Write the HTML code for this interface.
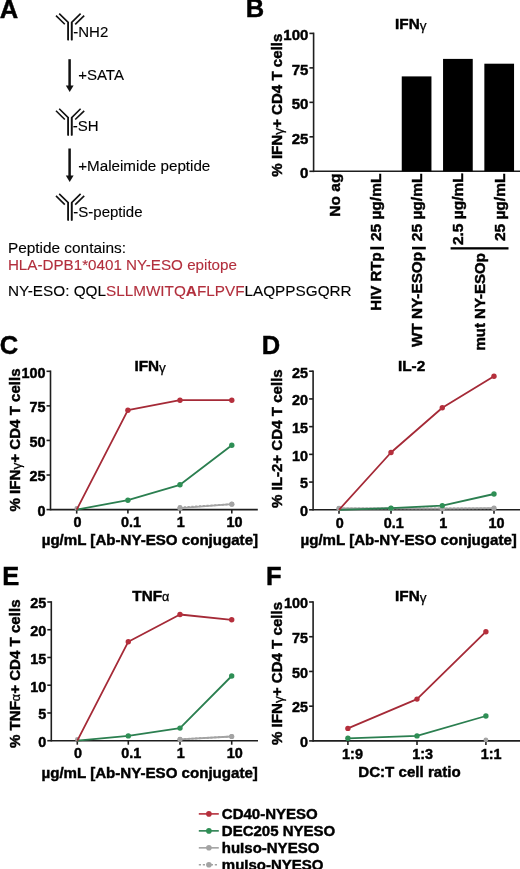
<!DOCTYPE html>
<html><head><meta charset="utf-8"><style>
html,body{margin:0;padding:0;background:#fff;}
svg{display:block;will-change:transform;}
text{font-family:"Liberation Sans",sans-serif;}
</style></head><body>
<svg width="520" height="869" viewBox="0 0 520 869">
<text x="-0.3" y="17.6" font-size="25.5" font-weight="bold" text-anchor="start" fill="#000" stroke="#000" stroke-width="0.45">A</text>
<line x1="68.2" y1="22.4" x2="68.2" y2="40.3" stroke="#111" stroke-width="1.6"/>
<line x1="71.7" y1="22.4" x2="71.7" y2="40.3" stroke="#111" stroke-width="1.6"/>
<polyline points="68.2,40.3 68.2,22.4 59.2,13.6" fill="none" stroke="#111" stroke-width="1.6"/>
<polyline points="71.7,40.3 71.7,22.4 80.6,13.6" fill="none" stroke="#111" stroke-width="1.6"/>
<line x1="56.0" y1="15.6" x2="64.8" y2="24.3" stroke="#111" stroke-width="1.6"/>
<line x1="75.2" y1="24.3" x2="84.2" y2="15.6" stroke="#111" stroke-width="1.6"/>
<text x="73.3" y="36.5" font-size="15" font-weight="normal" text-anchor="start" fill="#000" stroke="#000" stroke-width="0.12">-NH2</text>
<line x1="69.6" y1="59.2" x2="69.6" y2="87.0" stroke="#111" stroke-width="2.5"/>
<polygon points="65.8,85.6 73.6,85.6 69.7,92.0" fill="#111"/>
<text x="78.2" y="80.2" font-size="15" font-weight="normal" text-anchor="start" fill="#000" stroke="#000" stroke-width="0.12">+SATA</text>
<line x1="68.2" y1="117.6" x2="68.2" y2="135.5" stroke="#111" stroke-width="1.6"/>
<line x1="71.7" y1="117.6" x2="71.7" y2="135.5" stroke="#111" stroke-width="1.6"/>
<polyline points="68.2,135.5 68.2,117.6 59.2,108.8" fill="none" stroke="#111" stroke-width="1.6"/>
<polyline points="71.7,135.5 71.7,117.6 80.6,108.8" fill="none" stroke="#111" stroke-width="1.6"/>
<line x1="56.0" y1="110.8" x2="64.8" y2="119.5" stroke="#111" stroke-width="1.6"/>
<line x1="75.2" y1="119.5" x2="84.2" y2="110.8" stroke="#111" stroke-width="1.6"/>
<text x="72.7" y="130.6" font-size="15" font-weight="normal" text-anchor="start" fill="#000" stroke="#000" stroke-width="0.12">-SH</text>
<line x1="69.6" y1="148.5" x2="69.6" y2="177.0" stroke="#111" stroke-width="2.5"/>
<polygon points="65.8,175.6 73.6,175.6 69.7,182.0" fill="#111"/>
<text x="78.2" y="170.8" font-size="15.2" font-weight="normal" text-anchor="start" fill="#000" stroke="#000" stroke-width="0.12">+Maleimide peptide</text>
<line x1="68.2" y1="202.70000000000002" x2="68.2" y2="220.60000000000002" stroke="#111" stroke-width="1.6"/>
<line x1="71.7" y1="202.70000000000002" x2="71.7" y2="220.60000000000002" stroke="#111" stroke-width="1.6"/>
<polyline points="68.2,220.60000000000002 68.2,202.70000000000002 59.2,193.9" fill="none" stroke="#111" stroke-width="1.6"/>
<polyline points="71.7,220.60000000000002 71.7,202.70000000000002 80.6,193.9" fill="none" stroke="#111" stroke-width="1.6"/>
<line x1="56.0" y1="195.9" x2="64.8" y2="204.60000000000002" stroke="#111" stroke-width="1.6"/>
<line x1="75.2" y1="204.60000000000002" x2="84.2" y2="195.9" stroke="#111" stroke-width="1.6"/>
<text x="73.3" y="216.9" font-size="15" font-weight="normal" text-anchor="start" fill="#000" stroke="#000" stroke-width="0.12">-S-peptide</text>
<text x="7.9" y="252.6" font-size="15.4" font-weight="normal" text-anchor="start" fill="#000" stroke="#000" stroke-width="0.12">Peptide contains:</text>
<text x="7.9" y="270.3" font-size="15.2" font-weight="normal" text-anchor="start" fill="#B22F3D" stroke="#B22F3D" stroke-width="0.12">HLA-DPB1*0401 NY-ESO epitope</text>
<text x="7.9" y="296.0" font-size="15.3" fill="#000" stroke="#000" stroke-width="0.12">NY-ESO: QQL<tspan fill="#B22F3D" stroke="#B22F3D">SLLMWITQ<tspan font-weight="bold">A</tspan>FLPVF</tspan>LAQPPSGQRR</text>
<text x="245.8" y="16.9" font-size="25.5" font-weight="bold" text-anchor="start" fill="#000" stroke="#000" stroke-width="0.45">B</text>
<line x1="313.6" y1="32.6" x2="313.6" y2="172.10000000000002" stroke="#1e1e1e" stroke-width="1.6"/>
<line x1="313.6" y1="171.3" x2="520" y2="171.3" stroke="#1e1e1e" stroke-width="1.6"/>
<line x1="309.40000000000003" y1="171.3" x2="313.6" y2="171.3" stroke="#1e1e1e" stroke-width="1.6"/>
<text x="308.40000000000003" y="178.0" font-size="15.0" font-weight="bold" text-anchor="end" fill="#000" stroke="#000" stroke-width="0.45">0</text>
<line x1="309.40000000000003" y1="136.82500000000002" x2="313.6" y2="136.82500000000002" stroke="#1e1e1e" stroke-width="1.6"/>
<text x="308.40000000000003" y="143.525" font-size="15.0" font-weight="bold" text-anchor="end" fill="#000" stroke="#000" stroke-width="0.45">25</text>
<line x1="309.40000000000003" y1="102.35000000000001" x2="313.6" y2="102.35000000000001" stroke="#1e1e1e" stroke-width="1.6"/>
<text x="308.40000000000003" y="109.05000000000001" font-size="15.0" font-weight="bold" text-anchor="end" fill="#000" stroke="#000" stroke-width="0.45">50</text>
<line x1="309.40000000000003" y1="67.87500000000001" x2="313.6" y2="67.87500000000001" stroke="#1e1e1e" stroke-width="1.6"/>
<text x="308.40000000000003" y="74.57500000000002" font-size="15.0" font-weight="bold" text-anchor="end" fill="#000" stroke="#000" stroke-width="0.45">75</text>
<line x1="309.40000000000003" y1="33.400000000000006" x2="313.6" y2="33.400000000000006" stroke="#1e1e1e" stroke-width="1.6"/>
<text x="308.40000000000003" y="40.10000000000001" font-size="15.0" font-weight="bold" text-anchor="end" fill="#000" stroke="#000" stroke-width="0.45">100</text>
<rect x="401.75" y="76.4" width="29.7" height="94.9" fill="#000"/>
<rect x="443.04999999999995" y="58.9" width="29.7" height="112.4" fill="#000"/>
<rect x="484.34999999999997" y="63.7" width="29.7" height="107.60000000000001" fill="#000"/>
<text x="395.1" y="29.0" font-size="15.3" font-weight="bold" text-anchor="start" fill="#000" stroke="#000" stroke-width="0.45">IFN<tspan font-weight="normal" stroke-width="0.25" font-size="13.6" baseline-shift="-1">&#947;</tspan></text>
<text x="282.0" y="176.7" font-size="15.1" font-weight="bold" text-anchor="start" fill="#000" stroke="#000" stroke-width="0.45" transform="rotate(-90 282.0 176.7)">% IFN<tspan font-weight="normal" stroke-width="0.25" font-size="13.6" baseline-shift="-1">&#947;</tspan>+ CD4 T cells</text>
<text x="339.6" y="173.6" font-size="15.5" font-weight="bold" text-anchor="end" fill="#000" stroke="#000" stroke-width="0.45" transform="rotate(-90 339.6 173.6)">No ag</text>
<text x="380.6" y="173.6" font-size="15.5" font-weight="bold" text-anchor="end" fill="#000" stroke="#000" stroke-width="0.45" transform="rotate(-90 380.6 173.6)">25 &#181;g/mL</text>
<text x="421.9" y="173.6" font-size="15.5" font-weight="bold" text-anchor="end" fill="#000" stroke="#000" stroke-width="0.45" transform="rotate(-90 421.9 173.6)">25 &#181;g/mL</text>
<text x="463.1" y="173.3" font-size="15.5" font-weight="bold" text-anchor="end" fill="#000" stroke="#000" stroke-width="0.45" transform="rotate(-90 463.1 173.3)">2.5 &#181;g/mL</text>
<text x="504.6" y="173.6" font-size="15.5" font-weight="bold" text-anchor="end" fill="#000" stroke="#000" stroke-width="0.45" transform="rotate(-90 504.6 173.6)">25 &#181;g/mL</text>
<line x1="377.0" y1="248.1" x2="377.0" y2="248.1" stroke="#1e1e1e" stroke-width="1.6"/>
<rect x="370.2" y="246.8" width="13.8" height="2.6" fill="#000"/>
<rect x="412.0" y="246.8" width="13.8" height="2.6" fill="#000"/>
<rect x="450.6" y="247.2" width="57.9" height="2.3" fill="#000"/>
<text x="380.6" y="252.3" font-size="15.0" font-weight="bold" text-anchor="end" fill="#000" stroke="#000" stroke-width="0.45" transform="rotate(-90 380.6 252.3)">HIV RTp</text>
<text x="421.9" y="251.9" font-size="15.3" font-weight="bold" text-anchor="end" fill="#000" stroke="#000" stroke-width="0.45" transform="rotate(-90 421.9 251.9)">WT NY-ESOp</text>
<text x="485.0" y="253.1" font-size="15.0" font-weight="bold" text-anchor="end" fill="#000" stroke="#000" stroke-width="0.45" transform="rotate(-90 485.0 253.1)">mut NY-ESOp</text>
<line x1="50.5" y1="370.5" x2="50.5" y2="510.40000000000003" stroke="#1e1e1e" stroke-width="1.6"/>
<line x1="50.5" y1="509.6" x2="257.8" y2="509.6" stroke="#1e1e1e" stroke-width="1.6"/>
<line x1="46.5" y1="509.6" x2="50.5" y2="509.6" stroke="#1e1e1e" stroke-width="1.6"/>
<text x="45.5" y="515.9" font-size="14.4" font-weight="bold" text-anchor="end" fill="#000" stroke="#000" stroke-width="0.45">0</text>
<line x1="46.5" y1="475.02500000000003" x2="50.5" y2="475.02500000000003" stroke="#1e1e1e" stroke-width="1.6"/>
<text x="45.5" y="481.32500000000005" font-size="14.4" font-weight="bold" text-anchor="end" fill="#000" stroke="#000" stroke-width="0.45">25</text>
<line x1="46.5" y1="440.45000000000005" x2="50.5" y2="440.45000000000005" stroke="#1e1e1e" stroke-width="1.6"/>
<text x="45.5" y="446.75000000000006" font-size="14.4" font-weight="bold" text-anchor="end" fill="#000" stroke="#000" stroke-width="0.45">50</text>
<line x1="46.5" y1="405.875" x2="50.5" y2="405.875" stroke="#1e1e1e" stroke-width="1.6"/>
<text x="45.5" y="412.175" font-size="14.4" font-weight="bold" text-anchor="end" fill="#000" stroke="#000" stroke-width="0.45">75</text>
<line x1="46.5" y1="371.3" x2="50.5" y2="371.3" stroke="#1e1e1e" stroke-width="1.6"/>
<text x="45.5" y="377.6" font-size="14.4" font-weight="bold" text-anchor="end" fill="#000" stroke="#000" stroke-width="0.45">100</text>
<line x1="76.7" y1="509.6" x2="76.7" y2="513.6" stroke="#1e1e1e" stroke-width="1.6"/>
<line x1="127.9" y1="509.6" x2="127.9" y2="513.6" stroke="#1e1e1e" stroke-width="1.6"/>
<line x1="180.0" y1="509.6" x2="180.0" y2="513.6" stroke="#1e1e1e" stroke-width="1.6"/>
<line x1="231.8" y1="509.6" x2="231.8" y2="513.6" stroke="#1e1e1e" stroke-width="1.6"/>
<text x="77.4" y="527.3000000000001" font-size="14.4" font-weight="bold" text-anchor="middle" fill="#000" stroke="#000" stroke-width="0.45">0</text>
<text x="131.1" y="527.3000000000001" font-size="14.4" font-weight="bold" text-anchor="middle" fill="#000" stroke="#000" stroke-width="0.45">0.1</text>
<text x="180.7" y="527.3000000000001" font-size="14.4" font-weight="bold" text-anchor="middle" fill="#000" stroke="#000" stroke-width="0.45">1</text>
<text x="234.4" y="527.3000000000001" font-size="14.4" font-weight="bold" text-anchor="middle" fill="#000" stroke="#000" stroke-width="0.45">10</text>
<circle cx="76.7" cy="508.2" r="2.3" fill="#A3A3A3"/>
<polyline points="180.0,507.4 231.8,504.2" fill="none" stroke="#A3A3A3" stroke-width="1.8" stroke-linejoin="round" stroke-dasharray="2.2,1.6"/>
<circle cx="180.0" cy="507.4" r="2.4" fill="#A3A3A3"/>
<circle cx="231.8" cy="504.2" r="2.4" fill="#A3A3A3"/>
<polyline points="180.0,508.2 231.8,504.2" fill="none" stroke="#A3A3A3" stroke-width="1.8" stroke-linejoin="round"/>
<circle cx="180.0" cy="508.2" r="2.6" fill="#A3A3A3"/>
<circle cx="231.8" cy="504.2" r="2.6" fill="#A3A3A3"/>
<polyline points="76.7,509.6 127.9,500.2 180.0,484.8 231.8,445.2" fill="none" stroke="#2B7F50" stroke-width="1.8" stroke-linejoin="round"/>
<circle cx="127.9" cy="500.2" r="2.7" fill="#2E8F55"/>
<circle cx="180.0" cy="484.8" r="2.7" fill="#2E8F55"/>
<circle cx="231.8" cy="445.2" r="2.7" fill="#2E8F55"/>
<polyline points="76.7,509.6 127.9,410.2 180.0,400.2 231.8,400.2" fill="none" stroke="#A52A37" stroke-width="1.8" stroke-linejoin="round"/>
<circle cx="127.9" cy="410.2" r="2.7" fill="#B52F3C"/>
<circle cx="180.0" cy="400.2" r="2.7" fill="#B52F3C"/>
<circle cx="231.8" cy="400.2" r="2.7" fill="#B52F3C"/>
<text x="134.4" y="371.2" font-size="15.3" font-weight="bold" text-anchor="start" fill="#000" stroke="#000" stroke-width="0.45">IFN<tspan font-weight="normal" stroke-width="0.25" font-size="13.6" baseline-shift="-1">&#947;</tspan></text>
<text x="20.3" y="511.5" font-size="15.1" font-weight="bold" text-anchor="start" fill="#000" stroke="#000" stroke-width="0.45" transform="rotate(-90 20.3 511.5)">% IFN<tspan font-weight="normal" stroke-width="0.25" font-size="13.6" baseline-shift="-1">&#947;</tspan>+ CD4 T cells</text>
<text x="41.7" y="545.3" font-size="15.1" font-weight="bold" text-anchor="start" fill="#000" stroke="#000" stroke-width="0.45">&#181;g/mL [Ab-NY-ESO conjugate]</text>
<text x="-0.2" y="354.2" font-size="25.5" font-weight="bold" text-anchor="start" fill="#000" stroke="#000" stroke-width="0.45">C</text>
<line x1="313.1" y1="370.4" x2="313.1" y2="510.6" stroke="#1e1e1e" stroke-width="1.6"/>
<line x1="313.1" y1="509.8" x2="520" y2="509.8" stroke="#1e1e1e" stroke-width="1.6"/>
<line x1="309.1" y1="509.8" x2="313.1" y2="509.8" stroke="#1e1e1e" stroke-width="1.6"/>
<text x="308.1" y="516.1" font-size="14.4" font-weight="bold" text-anchor="end" fill="#000" stroke="#000" stroke-width="0.45">0</text>
<line x1="309.1" y1="482.08" x2="313.1" y2="482.08" stroke="#1e1e1e" stroke-width="1.6"/>
<text x="308.1" y="488.38" font-size="14.4" font-weight="bold" text-anchor="end" fill="#000" stroke="#000" stroke-width="0.45">5</text>
<line x1="309.1" y1="454.36" x2="313.1" y2="454.36" stroke="#1e1e1e" stroke-width="1.6"/>
<text x="308.1" y="460.66" font-size="14.4" font-weight="bold" text-anchor="end" fill="#000" stroke="#000" stroke-width="0.45">10</text>
<line x1="309.1" y1="426.64" x2="313.1" y2="426.64" stroke="#1e1e1e" stroke-width="1.6"/>
<text x="308.1" y="432.94" font-size="14.4" font-weight="bold" text-anchor="end" fill="#000" stroke="#000" stroke-width="0.45">15</text>
<line x1="309.1" y1="398.91999999999996" x2="313.1" y2="398.91999999999996" stroke="#1e1e1e" stroke-width="1.6"/>
<text x="308.1" y="405.21999999999997" font-size="14.4" font-weight="bold" text-anchor="end" fill="#000" stroke="#000" stroke-width="0.45">20</text>
<line x1="309.1" y1="371.2" x2="313.1" y2="371.2" stroke="#1e1e1e" stroke-width="1.6"/>
<text x="308.1" y="377.5" font-size="14.4" font-weight="bold" text-anchor="end" fill="#000" stroke="#000" stroke-width="0.45">25</text>
<line x1="339.0" y1="509.8" x2="339.0" y2="513.8" stroke="#1e1e1e" stroke-width="1.6"/>
<line x1="391.0" y1="509.8" x2="391.0" y2="513.8" stroke="#1e1e1e" stroke-width="1.6"/>
<line x1="442.3" y1="509.8" x2="442.3" y2="513.8" stroke="#1e1e1e" stroke-width="1.6"/>
<line x1="494.0" y1="509.8" x2="494.0" y2="513.8" stroke="#1e1e1e" stroke-width="1.6"/>
<text x="339.7" y="527.5" font-size="14.4" font-weight="bold" text-anchor="middle" fill="#000" stroke="#000" stroke-width="0.45">0</text>
<text x="393.8" y="527.5" font-size="14.4" font-weight="bold" text-anchor="middle" fill="#000" stroke="#000" stroke-width="0.45">0.1</text>
<text x="443.2" y="527.5" font-size="14.4" font-weight="bold" text-anchor="middle" fill="#000" stroke="#000" stroke-width="0.45">1</text>
<text x="496.6" y="527.5" font-size="14.4" font-weight="bold" text-anchor="middle" fill="#000" stroke="#000" stroke-width="0.45">10</text>
<polyline points="339.0,508.4 391.0,508.4 442.3,508.4 494.0,508.4" fill="none" stroke="#A3A3A3" stroke-width="1.8" stroke-linejoin="round" stroke-dasharray="2.2,1.6"/>
<circle cx="339.0" cy="508.4" r="2.4" fill="#A3A3A3"/>
<circle cx="391.0" cy="508.4" r="2.4" fill="#A3A3A3"/>
<circle cx="442.3" cy="508.4" r="2.4" fill="#A3A3A3"/>
<circle cx="494.0" cy="508.4" r="2.4" fill="#A3A3A3"/>
<polyline points="339.0,508.4 391.0,508.4 442.3,508.7 494.0,508.1" fill="none" stroke="#A3A3A3" stroke-width="1.8" stroke-linejoin="round"/>
<circle cx="339.0" cy="508.4" r="2.6" fill="#A3A3A3"/>
<circle cx="391.0" cy="508.4" r="2.6" fill="#A3A3A3"/>
<circle cx="442.3" cy="508.7" r="2.6" fill="#A3A3A3"/>
<circle cx="494.0" cy="508.1" r="2.6" fill="#A3A3A3"/>
<polyline points="339.0,509.8 391.0,508.1 442.3,505.6 494.0,494.0" fill="none" stroke="#2B7F50" stroke-width="1.8" stroke-linejoin="round"/>
<circle cx="391.0" cy="508.1" r="2.7" fill="#2E8F55"/>
<circle cx="442.3" cy="505.6" r="2.7" fill="#2E8F55"/>
<circle cx="494.0" cy="494.0" r="2.7" fill="#2E8F55"/>
<polyline points="339.0,509.8 391.0,452.5 442.3,407.8 494.0,376.2" fill="none" stroke="#A52A37" stroke-width="1.8" stroke-linejoin="round"/>
<circle cx="391.0" cy="452.5" r="2.7" fill="#B52F3C"/>
<circle cx="442.3" cy="407.8" r="2.7" fill="#B52F3C"/>
<circle cx="494.0" cy="376.2" r="2.7" fill="#B52F3C"/>
<text x="398.0" y="371.3" font-size="15.3" font-weight="bold" text-anchor="start" fill="#000" stroke="#000" stroke-width="0.45">IL-2</text>
<text x="281.6" y="508.1" font-size="15.1" font-weight="bold" text-anchor="start" fill="#000" stroke="#000" stroke-width="0.45" transform="rotate(-90 281.6 508.1)">% IL-2+ CD4 T cells</text>
<text x="300.5" y="545.4" font-size="15.1" font-weight="bold" text-anchor="start" fill="#000" stroke="#000" stroke-width="0.45">&#181;g/mL [Ab-NY-ESO conjugate]</text>
<text x="261.8" y="354.2" font-size="25.5" font-weight="bold" text-anchor="start" fill="#000" stroke="#000" stroke-width="0.45">D</text>
<line x1="51.3" y1="601.2" x2="51.3" y2="741.5" stroke="#1e1e1e" stroke-width="1.6"/>
<line x1="51.3" y1="740.7" x2="258" y2="740.7" stroke="#1e1e1e" stroke-width="1.6"/>
<line x1="47.3" y1="740.7" x2="51.3" y2="740.7" stroke="#1e1e1e" stroke-width="1.6"/>
<text x="46.3" y="747.0" font-size="14.4" font-weight="bold" text-anchor="end" fill="#000" stroke="#000" stroke-width="0.45">0</text>
<line x1="47.3" y1="712.96" x2="51.3" y2="712.96" stroke="#1e1e1e" stroke-width="1.6"/>
<text x="46.3" y="719.26" font-size="14.4" font-weight="bold" text-anchor="end" fill="#000" stroke="#000" stroke-width="0.45">5</text>
<line x1="47.3" y1="685.22" x2="51.3" y2="685.22" stroke="#1e1e1e" stroke-width="1.6"/>
<text x="46.3" y="691.52" font-size="14.4" font-weight="bold" text-anchor="end" fill="#000" stroke="#000" stroke-width="0.45">10</text>
<line x1="47.3" y1="657.48" x2="51.3" y2="657.48" stroke="#1e1e1e" stroke-width="1.6"/>
<text x="46.3" y="663.78" font-size="14.4" font-weight="bold" text-anchor="end" fill="#000" stroke="#000" stroke-width="0.45">15</text>
<line x1="47.3" y1="629.74" x2="51.3" y2="629.74" stroke="#1e1e1e" stroke-width="1.6"/>
<text x="46.3" y="636.04" font-size="14.4" font-weight="bold" text-anchor="end" fill="#000" stroke="#000" stroke-width="0.45">20</text>
<line x1="47.3" y1="602.0" x2="51.3" y2="602.0" stroke="#1e1e1e" stroke-width="1.6"/>
<text x="46.3" y="608.3" font-size="14.4" font-weight="bold" text-anchor="end" fill="#000" stroke="#000" stroke-width="0.45">25</text>
<line x1="77.3" y1="740.7" x2="77.3" y2="744.7" stroke="#1e1e1e" stroke-width="1.6"/>
<line x1="128.3" y1="740.7" x2="128.3" y2="744.7" stroke="#1e1e1e" stroke-width="1.6"/>
<line x1="180.0" y1="740.7" x2="180.0" y2="744.7" stroke="#1e1e1e" stroke-width="1.6"/>
<line x1="231.7" y1="740.7" x2="231.7" y2="744.7" stroke="#1e1e1e" stroke-width="1.6"/>
<text x="78.0" y="758.4000000000001" font-size="14.4" font-weight="bold" text-anchor="middle" fill="#000" stroke="#000" stroke-width="0.45">0</text>
<text x="131.3" y="758.4000000000001" font-size="14.4" font-weight="bold" text-anchor="middle" fill="#000" stroke="#000" stroke-width="0.45">0.1</text>
<text x="180.7" y="758.4000000000001" font-size="14.4" font-weight="bold" text-anchor="middle" fill="#000" stroke="#000" stroke-width="0.45">1</text>
<text x="234.7" y="758.4000000000001" font-size="14.4" font-weight="bold" text-anchor="middle" fill="#000" stroke="#000" stroke-width="0.45">10</text>
<circle cx="77.3" cy="739.3" r="2.3" fill="#A3A3A3"/>
<polyline points="180.0,739.3 231.7,736.5" fill="none" stroke="#A3A3A3" stroke-width="1.8" stroke-linejoin="round" stroke-dasharray="2.2,1.6"/>
<circle cx="180.0" cy="739.3" r="2.4" fill="#A3A3A3"/>
<circle cx="231.7" cy="736.5" r="2.4" fill="#A3A3A3"/>
<polyline points="180.0,739.3 231.7,736.5" fill="none" stroke="#A3A3A3" stroke-width="1.8" stroke-linejoin="round"/>
<circle cx="180.0" cy="739.3" r="2.6" fill="#A3A3A3"/>
<circle cx="231.7" cy="736.5" r="2.6" fill="#A3A3A3"/>
<polyline points="77.3,740.7 128.3,735.9 180.0,728.1 231.7,676.0" fill="none" stroke="#2B7F50" stroke-width="1.8" stroke-linejoin="round"/>
<circle cx="128.3" cy="735.9" r="2.7" fill="#2E8F55"/>
<circle cx="180.0" cy="728.1" r="2.7" fill="#2E8F55"/>
<circle cx="231.7" cy="676.0" r="2.7" fill="#2E8F55"/>
<polyline points="77.3,740.7 128.3,641.7 180.0,614.5 231.7,619.8" fill="none" stroke="#A52A37" stroke-width="1.8" stroke-linejoin="round"/>
<circle cx="128.3" cy="641.7" r="2.7" fill="#B52F3C"/>
<circle cx="180.0" cy="614.5" r="2.7" fill="#B52F3C"/>
<circle cx="231.7" cy="619.8" r="2.7" fill="#B52F3C"/>
<text x="132.3" y="601.0" font-size="15.3" font-weight="bold" text-anchor="start" fill="#000" stroke="#000" stroke-width="0.45">TNF<tspan font-weight="normal" stroke-width="0.3" font-size="12.6">&#945;</tspan></text>
<text x="20.0" y="748.1" font-size="15.1" font-weight="bold" text-anchor="start" fill="#000" stroke="#000" stroke-width="0.45" transform="rotate(-90 20.0 748.1)">% TNF<tspan font-weight="normal" stroke-width="0.3" font-size="12.6">&#945;</tspan>+ CD4 T cells</text>
<text x="41.5" y="777.7" font-size="15.1" font-weight="bold" text-anchor="start" fill="#000" stroke="#000" stroke-width="0.45">&#181;g/mL [Ab-NY-ESO conjugate]</text>
<text x="2.2" y="584.8" font-size="25.5" font-weight="bold" text-anchor="start" fill="#000" stroke="#000" stroke-width="0.45">E</text>
<line x1="313.1" y1="601.2" x2="313.1" y2="741.6999999999999" stroke="#1e1e1e" stroke-width="1.6"/>
<line x1="313.1" y1="740.9" x2="520" y2="740.9" stroke="#1e1e1e" stroke-width="1.6"/>
<line x1="309.1" y1="740.9" x2="313.1" y2="740.9" stroke="#1e1e1e" stroke-width="1.6"/>
<text x="308.1" y="747.1999999999999" font-size="14.4" font-weight="bold" text-anchor="end" fill="#000" stroke="#000" stroke-width="0.45">0</text>
<line x1="309.1" y1="706.175" x2="313.1" y2="706.175" stroke="#1e1e1e" stroke-width="1.6"/>
<text x="308.1" y="712.4749999999999" font-size="14.4" font-weight="bold" text-anchor="end" fill="#000" stroke="#000" stroke-width="0.45">25</text>
<line x1="309.1" y1="671.45" x2="313.1" y2="671.45" stroke="#1e1e1e" stroke-width="1.6"/>
<text x="308.1" y="677.75" font-size="14.4" font-weight="bold" text-anchor="end" fill="#000" stroke="#000" stroke-width="0.45">50</text>
<line x1="309.1" y1="636.725" x2="313.1" y2="636.725" stroke="#1e1e1e" stroke-width="1.6"/>
<text x="308.1" y="643.025" font-size="14.4" font-weight="bold" text-anchor="end" fill="#000" stroke="#000" stroke-width="0.45">75</text>
<line x1="309.1" y1="602.0" x2="313.1" y2="602.0" stroke="#1e1e1e" stroke-width="1.6"/>
<text x="308.1" y="608.3" font-size="14.4" font-weight="bold" text-anchor="end" fill="#000" stroke="#000" stroke-width="0.45">100</text>
<line x1="347.9" y1="740.9" x2="347.9" y2="744.9" stroke="#1e1e1e" stroke-width="1.6"/>
<line x1="417.0" y1="740.9" x2="417.0" y2="744.9" stroke="#1e1e1e" stroke-width="1.6"/>
<line x1="485.9" y1="740.9" x2="485.9" y2="744.9" stroke="#1e1e1e" stroke-width="1.6"/>
<text x="352.5" y="758.6" font-size="14.4" font-weight="bold" text-anchor="middle" fill="#000" stroke="#000" stroke-width="0.45">1:9</text>
<text x="422.6" y="758.6" font-size="14.4" font-weight="bold" text-anchor="middle" fill="#000" stroke="#000" stroke-width="0.45">1:3</text>
<text x="491.09999999999997" y="758.6" font-size="14.4" font-weight="bold" text-anchor="middle" fill="#000" stroke="#000" stroke-width="0.45">1:1</text>
<circle cx="485.9" cy="739.8" r="2.4" fill="#A3A3A3"/>
<polyline points="347.9,738.3 417.0,735.9 485.9,716.0" fill="none" stroke="#2B7F50" stroke-width="1.8" stroke-linejoin="round"/>
<circle cx="347.9" cy="738.3" r="2.7" fill="#2E8F55"/>
<circle cx="417.0" cy="735.9" r="2.7" fill="#2E8F55"/>
<circle cx="485.9" cy="716.0" r="2.7" fill="#2E8F55"/>
<polyline points="347.9,728.4 417.0,699.1 485.9,631.7" fill="none" stroke="#A52A37" stroke-width="1.8" stroke-linejoin="round"/>
<circle cx="347.9" cy="728.4" r="2.7" fill="#B52F3C"/>
<circle cx="417.0" cy="699.1" r="2.7" fill="#B52F3C"/>
<circle cx="485.9" cy="631.7" r="2.7" fill="#B52F3C"/>
<text x="395.1" y="601.3" font-size="15.3" font-weight="bold" text-anchor="start" fill="#000" stroke="#000" stroke-width="0.45">IFN<tspan font-weight="normal" stroke-width="0.25" font-size="13.6" baseline-shift="-1">&#947;</tspan></text>
<text x="281.6" y="745.0" font-size="15.1" font-weight="bold" text-anchor="start" fill="#000" stroke="#000" stroke-width="0.45" transform="rotate(-90 281.6 745.0)">% IFN<tspan font-weight="normal" stroke-width="0.25" font-size="13.6" baseline-shift="-1">&#947;</tspan>+ CD4 T cells</text>
<text x="358.3" y="777.2" font-size="15.1" font-weight="bold" text-anchor="start" fill="#000" stroke="#000" stroke-width="0.45">DC:T cell ratio</text>
<text x="266.1" y="585.0" font-size="25.5" font-weight="bold" text-anchor="start" fill="#000" stroke="#000" stroke-width="0.45">F</text>
<line x1="198.8" y1="813.9" x2="218.8" y2="813.9" stroke="#B52F3C" stroke-width="1.6"/>
<circle cx="208.9" cy="813.9" r="2.8" fill="#B52F3C"/>
<text x="221.8" y="818.6999999999999" font-size="15.0" font-weight="bold" text-anchor="start" fill="#000" stroke="#000" stroke-width="0.45">CD40-NYESO</text>
<line x1="198.8" y1="830.87" x2="218.8" y2="830.87" stroke="#2B7F50" stroke-width="1.6"/>
<circle cx="208.9" cy="830.9" r="2.8" fill="#2E8F55"/>
<text x="221.8" y="835.67" font-size="15.0" font-weight="bold" text-anchor="start" fill="#000" stroke="#000" stroke-width="0.45">DEC205 NYESO</text>
<line x1="198.8" y1="847.8399999999999" x2="218.8" y2="847.8399999999999" stroke="#A3A3A3" stroke-width="1.6"/>
<circle cx="208.9" cy="847.8" r="2.8" fill="#A3A3A3"/>
<text x="221.8" y="852.6399999999999" font-size="15.0" font-weight="bold" text-anchor="start" fill="#000" stroke="#000" stroke-width="0.45">huIso-NYESO</text>
<line x1="198.8" y1="864.81" x2="218.8" y2="864.81" stroke="#A3A3A3" stroke-width="1.6" stroke-dasharray="2.2,1.8"/>
<circle cx="208.9" cy="864.8" r="2.8" fill="#A3A3A3"/>
<text x="221.8" y="869.6099999999999" font-size="15.0" font-weight="bold" text-anchor="start" fill="#000" stroke="#000" stroke-width="0.45">muIso-NYESO</text>
</svg>
</body></html>
